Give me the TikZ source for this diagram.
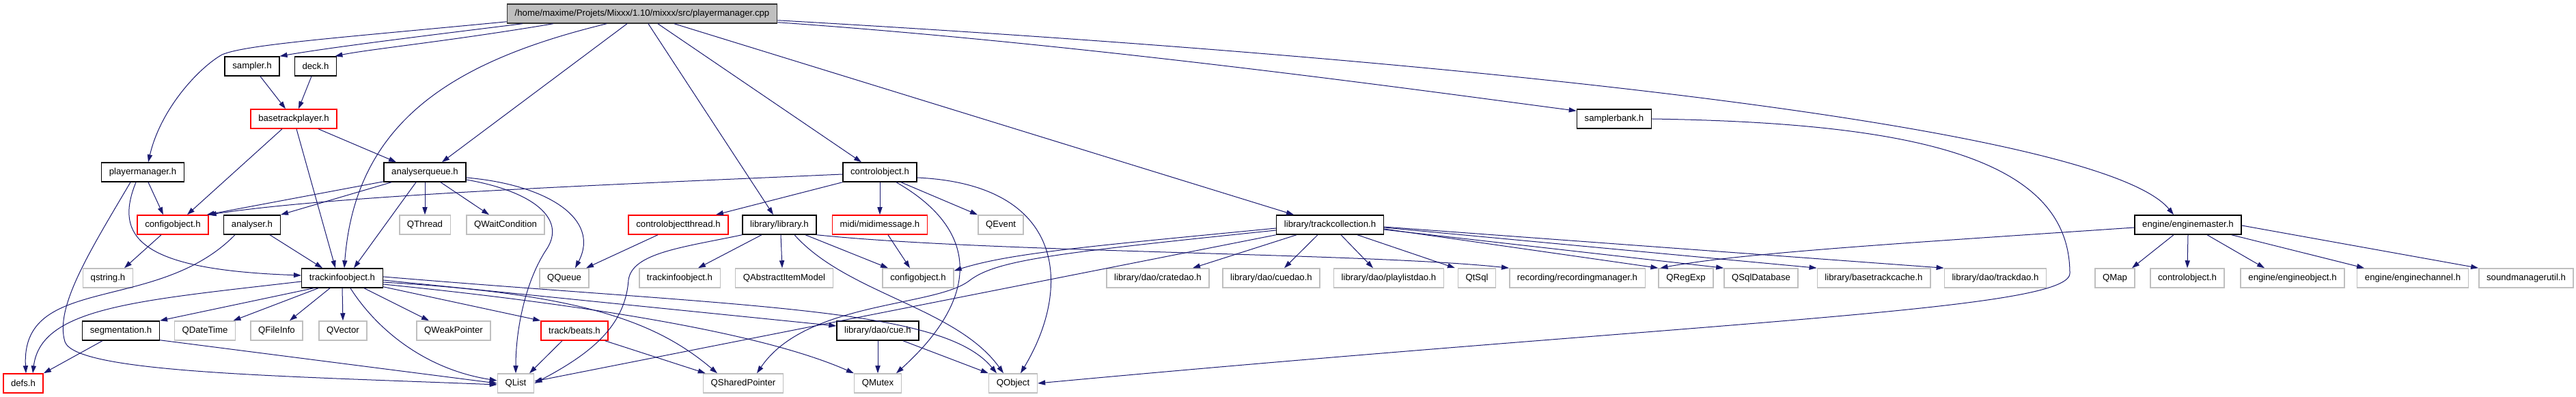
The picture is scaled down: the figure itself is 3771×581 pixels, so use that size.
\documentclass[tikz,border=0pt]{standalone}
\usepackage{fontspec}
\setmainfont{Liberation Sans}
\usepackage{tikz}
\usetikzlibrary{arrows.meta}
\usetikzlibrary{calc}
\definecolor{edgeblue}{RGB}{25, 25, 112}
\definecolor{sysgray}{RGB}{191, 191, 191}
\tikzset{>={Triangle[length=5.5pt, width=3.6pt]}}
\tikzset{
    hdr/.style={draw=black, line width=0.75pt, fill=white, minimum height=14pt, inner xsep=5.6pt, inner ysep=0pt, font=\fontsize{6.6}{8}\selectfont},
    hdrred/.style={hdr, draw=red},
    hdrsys/.style={hdr, draw=sysgray},
    hdrroot/.style={hdr, fill=sysgray, draw=black!80},
    dep/.style={->, draw=edgeblue, line width=0.5pt}
}

\begin{document}
\begin{tikzpicture}[x=0.5pt, y=-0.5pt]
    \useasboundingbox (0,0) rectangle (3771,581);

    % the .cpp and its direct includes
    \node[hdrroot] (root) at (940,20) {/home/maxime/Projets/Mixxx/1.10/mixxx/src/playermanager.cpp};
    \node[hdr] (sampler) at (369,97) {sampler.h};
    \node[hdr] (deck) at (462,97) {deck.h};
    \node[hdrred] (basetp) at (430,174) {basetrackplayer.h};
    \node[hdr] (samplerbank) at (2363,174) {samplerbank.h};
    \node[hdr] (playermgr) at (209,252) {playermanager.h};
    \node[hdr] (anaq) at (622,252) {analyserqueue.h};
    \node[hdr] (ctrlobj) at (1288,252) {controlobject.h};

    % row 3
    \node[hdrred] (cfgobj) at (253,329) {configobject.h};
    \node[hdr] (analyser) at (369,329) {analyser.h};
    \node[hdrsys] (qthread) at (622,329) {QThread};
    \node[hdrsys] (qwaitcond) at (740,329) {QWaitCondition};
    \node[hdrred] (ctrlthread) at (993,329) {controlobjectthread.h};
    \node[hdr] (library) at (1141,329) {library/library.h};
    \node[hdrred] (midimsg) at (1288,329) {midi/midimessage.h};
    \node[hdrsys] (qevent) at (1465,329) {QEvent};
    \node[hdr] (trackcoll) at (1947,329) {library/trackcollection.h};
    \node[hdr] (enginemaster) at (3203,329) {engine/enginemaster.h};

    % row 4
    \node[hdrsys] (qstring) at (158,407) {qstring.h};
    \node[hdr] (tio) at (501,407) {trackinfoobject.h};
    \node[hdrsys] (qqueue) at (826,407) {QQueue};
    \node[hdrsys] (tio2) at (995,407) {trackinfoobject.h};
    \node[hdrsys] (qaim) at (1148,407) {QAbstractItemModel};
    \node[hdrsys] (cfgobj2) at (1344,407) {configobject.h};
    \node[hdrsys] (cratedao) at (1695,407) {library/dao/cratedao.h};
    \node[hdrsys] (cuedao) at (1861,407) {library/dao/cuedao.h};
    \node[hdrsys] (playlistdao) at (2033,407) {library/dao/playlistdao.h};
    \node[hdrsys] (qtsql) at (2162,407) {QtSql};
    \node[hdrsys] (recmgr) at (2309,407) {recording/recordingmanager.h};
    \node[hdrsys] (qregexp) at (2468,407) {QRegExp};
    \node[hdrsys] (qsqldb) at (2578,407) {QSqlDatabase};
    \node[hdrsys] (btcache) at (2743,407) {library/basetrackcache.h};
    \node[hdrsys] (trackdao) at (2921,407) {library/dao/trackdao.h};
    \node[hdrsys] (qmap) at (3096,407) {QMap};
    \node[hdrsys] (ctrlobj2) at (3202,407) {controlobject.h};
    \node[hdrsys] (engobj) at (3356,407) {engine/engineobject.h};
    \node[hdrsys] (engchan) at (3532,407) {engine/enginechannel.h};
    \node[hdrsys] (soundutil) at (3698,407) {soundmanagerutil.h};

    % row 5
    \node[hdr] (segm) at (177,484) {segmentation.h};
    \node[hdrsys] (qdatetime) at (300,484) {QDateTime};
    \node[hdrsys] (qfileinfo) at (405,484) {QFileInfo};
    \node[hdrsys] (qvector) at (502,484) {QVector};
    \node[hdrsys] (qweakptr) at (664,484) {QWeakPointer};
    \node[hdrred] (beats) at (841,484) {track/beats.h};
    \node[hdr] (cue) at (1285,484) {library/dao/cue.h};

    % row 6
    \node[hdrred] (defs) at (34,561) {defs.h};
    \node[hdrsys] (qlist) at (755,561) {QList};
    \node[hdrsys] (qsharedptr) at (1088,561) {QSharedPointer};
    \node[hdrsys] (qmutex) at (1285,561) {QMutex};
    \node[hdrsys] (qobject) at (1483,561) {QObject};

    % includes of the .cpp
    \draw[dep] ($(root.south west)+(0,-3)$) .. controls (500,55) and (360,65) .. (325,80) .. controls (290,100) and (235,160) .. ($(playermgr.north)+(8,0)$);
    \draw[dep] ($(root.south west)+(23,0)$) .. controls (600,55) and (480,70) .. (sampler.north east);
    \draw[dep] ($(root.south west)+(68,0)$) .. controls (660,60) and (540,72) .. ($(deck.north east)+(-3,0)$);
    \draw[dep] ($(root.south)+(-52,0)$) .. controls (660,90) and (520,180) .. ($(tio.north)+(3,0)$);
    \draw[dep] ($(root.south)+(-22,0)$) -- ($(anaq.north)+(25,0)$);
    \draw[dep] ($(root.south)+(9,0)$) -- ($(library.north)+(-9,0)$);
    \draw[dep] ($(root.south)+(23,0)$) -- ($(ctrlobj.north)+(-27,0)$);
    \draw[dep] ($(root.south)+(47,0)$) -- ($(trackcoll.north)+(-53,0)$);
    \draw[dep] ($(root.south east)+(0,-2)$) .. controls (1600,65) and (2100,135) .. ($(samplerbank.north west)+(0,3)$);
    \draw[dep] ($(root.south east)+(0,-5)$) .. controls (2200,90) and (3080,190) .. ($(enginemaster.north)+(-21,0)$);

    % players
    \draw[dep] ($(sampler.south)+(12,0)$) -- ($(basetp.north)+(-12,0)$);
    \draw[dep] ($(deck.south)+(-6,0)$) -- ($(basetp.north)+(7,0)$);
    \draw[dep] ($(basetp.south)+(-17,0)$) -- ($(cfgobj.north)+(21,0)$);
    \draw[dep] ($(basetp.south)+(4,0)$) -- ($(tio.north)+(-10,0)$);
    \draw[dep] ($(basetp.south)+(36,0)$) -- ($(anaq.north)+(-42,0)$);
    \draw[dep] ($(playermgr.south)+(8,0)$) -- ($(cfgobj.north)+(-14,0)$);
    \draw[dep] ($(playermgr.south)+(-10,0)$) .. controls (165,350) and (210,395) .. ($(tio.west)+(0,-4)$);
    \draw[dep] ($(playermgr.south)+(-18,0)$) .. controls (130,370) and (80,450) .. (95,500) .. controls (110,545) and (400,550) .. ($(qlist.west)+(0,2)$);

    % analyser queue
    \draw[dep] ($(anaq.south west)+(0,-1)$) -- ($(cfgobj.north east)+(-3,0)$);
    \draw[dep] ($(anaq.south)+(-49,0)$) -- (analyser.north east);
    \draw[dep] ($(anaq.south)+(-13,0)$) -- ($(tio.north)+(17,0)$);
    \draw[dep] (anaq.south) -- (qthread.north);
    \draw[dep] ($(anaq.south)+(23,0)$) -- ($(qwaitcond.north)+(-24,0)$);
    \draw[dep] ($(anaq.east)+(0,11)$) .. controls (780,280) and (830,320) .. (800,365) .. controls (770,410) and (755,480) .. (qlist.north);
    \draw[dep] ($(anaq.east)+(0,8)$) .. controls (800,270) and (880,320) .. ($(qqueue.north)+(16,0)$);
    \draw[dep] ($(analyser.south)+(26,0)$) -- ($(tio.north)+(-29,0)$);
    \draw[dep] ($(analyser.south)+(-25,0)$) .. controls (230,460) and (30,400) .. ($(defs.north)+(4,0)$);
    \draw[dep] ($(cfgobj.south)+(-17,0)$) -- ($(qstring.north)+(24,0)$);

    % track info object
    \draw[dep] ($(tio.west)+(0,5)$) .. controls (200,440) and (60,450) .. ($(defs.north)+(14,0)$);
    \draw[dep] ($(tio.south)+(-42,0)$) -- (segm.north east);
    \draw[dep] ($(tio.south)+(-35,0)$) -- ($(qdatetime.north east)+(-4,0)$);
    \draw[dep] ($(tio.south)+(-18,0)$) -- ($(qfileinfo.north)+(19,0)$);
    \draw[dep] (tio.south) -- (qvector.north);
    \draw[dep] ($(tio.south)+(32,0)$) -- ($(qweakptr.north)+(-36,0)$);
    \draw[dep] ($(tio.south)+(12,0)$) .. controls (550,480) and (620,540) .. ($(qlist.west)+(0,-4)$);
    \draw[dep] ($(tio.south east)+(0,-2)$) -- (beats.north west);
    \draw[dep] ($(tio.east)+(0,3)$) -- ($(cue.west)+(0,-7)$);
    \draw[dep] ($(tio.east)+(0,-2)$) .. controls (1100,450) and (1380,450) .. ($(qobject.north)+(-24,0)$);
    \draw[dep] ($(tio.east)+(0,6)$) .. controls (850,430) and (960,470) .. ($(qsharedptr.north)+(-38,0)$);
    \draw[dep] ($(tio.east)+(0,9)$) .. controls (800,440) and (1100,480) .. (qmutex.north west);
    \draw[dep] ($(beats.south)+(-18,0)$) -- ($(qlist.north)+(20,0)$);
    \draw[dep] ($(beats.south east)+(-5,0)$) -- ($(qsharedptr.north west)+(4,0)$);
    \draw[dep] ($(segm.south)+(-27,0)$) -- (defs.north east);
    \draw[dep] ($(segm.south east)+(0,-1)$) -- (qlist.west);

    % library
    \draw[dep] ($(library.south)+(-26,0)$) -- ($(tio2.north)+(27,0)$);
    \draw[dep] ($(library.south)+(2,0)$) -- ($(qaim.north)+(-3,0)$);
    \draw[dep] ($(library.south)+(38,0)$) -- ($(cfgobj2.north)+(-44,0)$);
    \draw[dep] ($(library.south)+(22,0)$) .. controls (1240,430) and (1400,450) .. ($(qobject.north)+(-14,0)$);
    \draw[dep] (library.south east) .. controls (1450,370) and (2000,370) .. (recmgr.north west);
    \draw[dep] (library.south west) .. controls (1000,362) and (925,370) .. (920,410) .. controls (915,480) and (860,520) .. (qlist.east);
    \draw[dep] ($(midimsg.south)+(12,0)$) -- ($(cfgobj2.north)+(-12,0)$);

    % control object
    \draw[dep] ($(ctrlobj.west)+(0,3)$) .. controls (900,270) and (500,285) .. (cfgobj.north east);
    \draw[dep] (ctrlobj.south west) -- ($(ctrlthread.north)+(55,0)$);
    \draw[dep] (ctrlobj.south) -- (midimsg.north);
    \draw[dep] ($(ctrlobj.south)+(24,0)$) .. controls (1440,340) and (1430,440) .. ($(qmutex.north)+(27,0)$);
    \draw[dep] ($(ctrlobj.south)+(31,0)$) -- (qevent.north west);
    \draw[dep] ($(ctrlobj.east)+(0,8)$) .. controls (1560,270) and (1570,420) .. ($(qobject.north)+(11,0)$);
    \draw[dep] ($(ctrlthread.south)+(-30,0)$) -- ($(qqueue.north)+(32,0)$);
    \draw[dep] (cue.south) -- (qmutex.north);
    \draw[dep] ($(cue.south)+(37,0)$) -- (qobject.north west);

    % track collection
    \draw[dep] ($(trackcoll.south)+(-49,0)$) -- ($(cratedao.north)+(51,0)$);
    \draw[dep] ($(trackcoll.south)+(-18,0)$) -- ($(cuedao.north)+(19,0)$);
    \draw[dep] ($(trackcoll.south)+(16,0)$) -- ($(playlistdao.north)+(-23,0)$);
    \draw[dep] ($(trackcoll.south)+(40,0)$) -- ($(qtsql.north)+(-32,0)$);
    \draw[dep] ($(trackcoll.east)+(0,6)$) -- (qregexp.north west);
    \draw[dep] ($(trackcoll.east)+(0,7)$) -- (qsqldb.north west);
    \draw[dep] ($(trackcoll.east)+(0,4)$) -- (btcache.north west);
    \draw[dep] ($(trackcoll.east)+(0,3)$) -- (trackdao.north west);
    \draw[dep] ($(trackcoll.west)+(0,5)$) .. controls (1600,360) and (1480,370) .. ($(cfgobj2.north east)+(0,4)$);
    \draw[dep] ($(trackcoll.west)+(0,8)$) .. controls (1550,370) and (1460,380) .. (1420,410) .. controls (1370,450) and (1180,440) .. ($(qsharedptr.north)+(20,0)$);
    \draw[dep] (trackcoll.south west) -- ($(qlist.east)+(0,-3)$);

    % engine master and sampler bank
    \draw[dep] ($(enginemaster.west)+(0,4)$) .. controls (2800,355) and (2550,370) .. ($(qregexp.north west)+(3,0)$);
    \draw[dep] ($(enginemaster.south)+(-21,0)$) -- ($(qmap.north)+(25,0)$);
    \draw[dep] (enginemaster.south) -- (ctrlobj2.north);
    \draw[dep] ($(enginemaster.south)+(28,0)$) -- ($(engobj.north)+(-41,0)$);
    \draw[dep] ($(enginemaster.south east)+(-15,0)$) -- ($(engchan.north)+(-71,0)$);
    \draw[dep] ($(enginemaster.east)+(0,1)$) -- (soundutil.north west);
    \draw[dep] (samplerbank.east) .. controls (2800,180) and (3030,230) .. (3030,400) .. controls (3030,455) and (2500,470) .. (qobject.east);

\end{tikzpicture}
\end{document}
